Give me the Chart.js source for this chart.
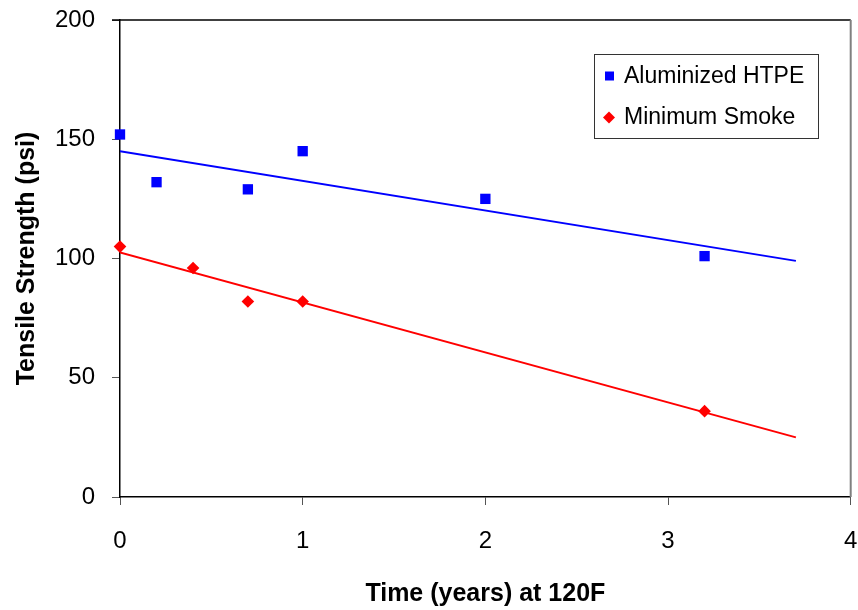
<!DOCTYPE html>
<html>
<head>
<meta charset="utf-8">
<script src="https://cdn.jsdelivr.net/npm/chart.js@4"></script>
<style>
  html, body { margin: 0; padding: 0; background: #fff; }
  #wrap { width: 858px; height: 610px; }
</style>
</head>
<body>
<div id="wrap"><canvas id="myChart" width="858" height="610"></canvas></div>
<script>
// data
const timeHTPE = [0, 0.2, 0.7, 1, 2, 3.2];
const strengthHTPE = [152, 132, 129, 145, 125, 101];
const timeSmoke = [0, 0.4, 0.7, 1, 3.2];
const strengthSmoke = [105, 96, 82, 82, 36];
// linear trend line ends
const trendTime = [0, 3.7];
const trendHTPE = [145, 99];
const trendSmoke = [102.5, 25];
const xTicks = [0, 1, 2, 3, 4];
const yTicks = [0, 50, 100, 150, 200];

const FONT = '"Liberation Sans", Arial, sans-serif';
const toPoints = (xs, ys) => xs.map((x, i) => ({ x: x, y: ys[i] }));

// legend drawn inside the plot, like the original
const boxLegend = {
  id: 'boxLegend',
  afterDraw(chart) {
    const ctx = chart.ctx;
    const items = chart.data.datasets.filter(d => d.inLegend);
    ctx.save();
    ctx.fillStyle = '#fff';
    ctx.fillRect(594, 54, 224, 84);
    ctx.strokeStyle = '#333';
    ctx.lineWidth = 1;
    ctx.strokeRect(594.5, 54.5, 224, 84);
    ctx.font = '23px ' + FONT;
    ctx.textBaseline = 'middle';
    ctx.textAlign = 'left';
    items.forEach((d, i) => {
      const y = 76 + i * 41;
      ctx.fillStyle = d.backgroundColor;
      if (d.pointStyle === 'rect') {
        ctx.fillRect(605, y - 4.5, 9, 9);
      } else {
        ctx.beginPath();
        ctx.moveTo(609, y - 5.5);
        ctx.lineTo(615, y + 0.5);
        ctx.lineTo(609, y + 6.5);
        ctx.lineTo(603, y + 0.5);
        ctx.closePath();
        ctx.fill();
      }
      ctx.fillStyle = '#000';
      ctx.fillText(d.label, 624, y + 1);
    });
    ctx.restore();
  }
};

// top and right edge of the plot area
const frame = {
  id: 'frame',
  beforeDatasetsDraw(chart) {
    const { ctx, chartArea: a } = chart;
    ctx.save();
    ctx.strokeStyle = '#000';
    ctx.lineWidth = 1.5;
    ctx.beginPath();
    ctx.moveTo(a.left - 8, a.top);
    ctx.lineTo(a.right, a.top);
    ctx.stroke();
    ctx.strokeStyle = '#808080';
    ctx.lineWidth = 2;
    ctx.beginPath();
    ctx.moveTo(a.right, a.top);
    ctx.lineTo(a.right, a.bottom);
    ctx.stroke();
    ctx.restore();
  }
};

const ctx = document.getElementById('myChart').getContext('2d');
new Chart(ctx, {
  type: 'scatter',
  data: {
    datasets: [
      {
        label: 'Aluminized HTPE',
        data: toPoints(timeHTPE, strengthHTPE),
        pointStyle: 'rect',
        pointRadius: 7.3,
        backgroundColor: '#0000ff',
        borderColor: '#0000ff',
        borderWidth: 0,
        clip: false,
        inLegend: true,
        order: 0,
      },
      {
        label: 'Minimum Smoke',
        data: toPoints(timeSmoke, strengthSmoke),
        pointStyle: 'rectRot',
        pointRadius: 6.3,
        backgroundColor: '#ff0000',
        borderColor: '#ff0000',
        borderWidth: 0,
        clip: false,
        inLegend: true,
        order: 0,
      },
      {
        label: 'HTPE trend',
        data: toPoints(trendTime, trendHTPE),
        showLine: true,
        pointRadius: 0,
        borderColor: '#0000ff',
        borderWidth: 2,
        order: 1,
      },
      {
        label: 'Smoke trend',
        data: toPoints(trendTime, trendSmoke),
        showLine: true,
        pointRadius: 0,
        borderColor: '#ff0000',
        borderWidth: 2,
        order: 1,
      },
    ],
  },
  options: {
    responsive: false,
    animation: false,
    layout: { padding: { top: 20, right: 6, left: 0, bottom: 0 } },
    plugins: {
      legend: { display: false },
      tooltip: { enabled: false },
    },
    scales: {
      x: {
        type: 'linear',
        min: 0,
        max: 4,
        afterBuildTicks: axis => { axis.ticks = xTicks.map(v => ({ value: v })); },
        afterFit: axis => {
          axis.height = 113;
          axis.paddingLeft = 0;
          axis.paddingRight = 0;
        },
        grid: { drawOnChartArea: false, drawTicks: true, tickLength: 8, color: '#555' },
        border: { color: '#000', width: 1.5 },
        ticks: { color: '#000', padding: 22, font: { family: FONT, size: 24 } },
        title: {
          display: true,
          text: 'Time (years) at 120F',
          color: '#000',
          padding: { top: 0, bottom: 1 },
          font: { family: FONT, size: 25, weight: 'bold' },
        },
      },
      y: {
        type: 'linear',
        min: 0,
        max: 200,
        afterBuildTicks: axis => { axis.ticks = yTicks.map(v => ({ value: v })); },
        afterFit: axis => {
          axis.width = 120;
          axis.paddingTop = 0;
          axis.paddingBottom = 0;
        },
        grid: { drawOnChartArea: false, drawTicks: true, tickLength: 8, color: '#555' },
        border: { color: '#000', width: 1.5 },
        ticks: { color: '#000', padding: 17, font: { family: FONT, size: 24 } },
        title: {
          display: true,
          text: 'Tensile Strength (psi)',
          color: '#000',
          padding: { top: 12, bottom: 0 },
          font: { family: FONT, size: 25, weight: 'bold' },
        },
      },
    },
  },
  plugins: [frame, boxLegend],
});
</script>
</body>
</html>
